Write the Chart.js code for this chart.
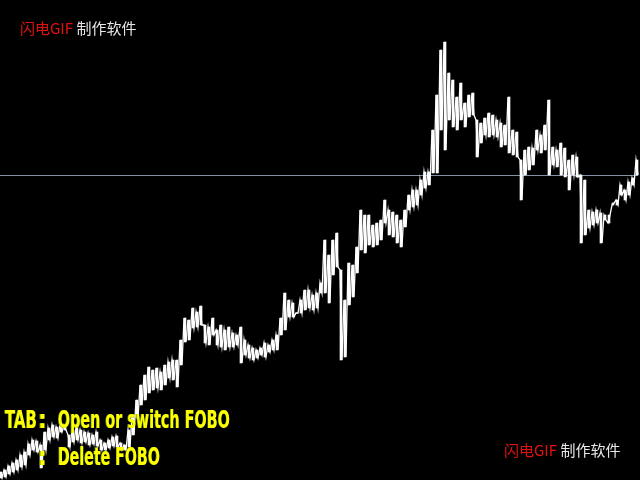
<!DOCTYPE html>
<html>
<head>
<meta charset="utf-8">
<script src="https://cdn.jsdelivr.net/npm/chart.js@4/dist/chart.umd.min.js"></script>
<style>
  html, body { margin: 0; padding: 0; background: #000; overflow: hidden; }
  #wrap { position: relative; width: 640px; height: 480px; background: #000; }
  canvas { position: absolute; left: 0; top: 0; }
  .wm { position: absolute; font-family: "Noto Sans CJK SC", sans-serif; font-size: 15px; line-height: 16px; white-space: nowrap; }
  .wm .r { color: #e31010; }
  .wm .w { color: #e8e8e8; }
  .fobo { position: absolute; font-family: "Liberation Sans Narrow", "DejaVu Sans Condensed", sans-serif; font-weight: bold; font-size: 25px; line-height: 26px; color: #ffff00; white-space: nowrap; text-shadow: -1px 0 #6a9a00; transform-origin: left top; }
</style>
</head>
<body>
<div id="wrap">
  <canvas id="c" width="640" height="480"></canvas>
  <div class="wm" style="left:20px; top:20px;"><span class="r">闪电GIF</span> <span class="w">制作软件</span></div>
  <div class="wm" style="left:504px; top:442px;"><span class="r">闪电GIF</span> <span class="w">制作软件</span></div>
  <div class="fobo" id="t0" style="left:5px; top:407px;">TAB</div>
  <div class="fobo" style="left:38px; top:407px;">:</div>
  <div class="fobo" id="t1" style="left:58px; top:407px;">Open or switch FOBO</div>
  <div class="fobo" style="left:38px; top:444px;">:</div>
  <div class="fobo" id="t2" style="left:58px; top:444px;">Delete FOBO</div>
</div>
<script>
// bar index (time) 0..159
const bars = Array.from({length: 160}, (_, i) => i);
// per-bar high and low prices
const highs = [
  8,10,14,17,20,25,28,36,40,39,35,48,52,55,53,56,55,45,50,52,
  50,48,47,45,48,40,37,40,43,44,37,35,50,65,80,95,105,113,110,112,
  108,115,118,120,120,140,162,160,172,168,174,155,153,162,150,155,150,153,147,145,
  153,140,135,132,130,132,137,135,140,145,162,187,180,177,167,180,190,190,185,187,
  197,240,225,240,247,210,180,217,215,233,270,265,265,255,257,260,280,270,268,265,
  260,270,285,290,290,300,308,308,350,385,430,438,407,400,383,397,377,385,387,360,
  357,362,367,365,360,357,355,383,350,348,320,330,333,332,350,345,355,380,333,330,
  337,332,320,325,323,305,300,270,268,270,267,265,257,275,280,295,290,298,302,320
];
const lows = [
  2,3,6,8,10,13,15,25,30,28,12,30,40,43,42,48,50,33,38,40,
  37,38,35,36,34,30,30,32,34,33,30,30,33,45,62,75,80,87,90,92,
  90,95,102,100,93,115,138,140,152,153,155,137,135,145,135,133,130,133,133,135,
  117,125,122,120,122,125,123,128,130,130,145,150,163,163,167,167,170,172,170,172,
  187,187,177,205,213,120,123,175,183,207,230,227,235,233,235,240,257,245,243,237,
  233,253,270,273,275,285,292,295,307,307,350,330,360,353,350,360,353,363,365,323,
  337,345,343,345,343,333,335,327,325,323,280,305,310,315,330,327,330,305,315,313,
  305,303,290,305,303,237,245,252,255,257,237,260,265,277,275,285,280,285,295,305
];
// horizontal price level line
const levelPrice = 305;

// zig-zag through each bar's high and low gives the dense tick texture
const points = [];
bars.forEach((b, i) => {
  points.push({x: b, y: highs[i]});
  points.push({x: b + 0.5, y: lows[i]});
});
// thin high-low sticks under it
const sticks = bars.map((b, i) => ({x: b + 0.25, y: [lows[i], highs[i]]}));

const levelLine = {
  id: 'levelLine',
  beforeDatasetsDraw(chart) {
    const {ctx, chartArea, scales} = chart;
    const y = Math.round(scales.y.getPixelForValue(levelPrice)) + 0.5;
    ctx.save();
    ctx.strokeStyle = '#8291a6';
    ctx.lineWidth = 1;
    ctx.beginPath();
    ctx.moveTo(chartArea.left, y);
    ctx.lineTo(chartArea.right - 2, y);
    ctx.stroke();
    ctx.restore();
  }
};

new Chart(document.getElementById('c'), {
  data: {
    datasets: [{
      type: 'line',
      data: points,
      borderColor: '#ffffff',
      borderWidth: 1.3,
      pointRadius: 0,
      tension: 0,
      fill: false
    }, {
      type: 'bar',
      data: sticks,
      backgroundColor: '#ffffff',
      borderWidth: 0,
      barThickness: 2
    }]
  },
  options: {
    responsive: false,
    animation: false,
    layout: { padding: 0 },
    plugins: { legend: { display: false }, tooltip: { enabled: false } },
    scales: {
      x: { type: 'linear', min: 0, max: 160, display: false, offset: false },
      y: { type: 'linear', min: 0, max: 480, display: false }
    }
  },
  plugins: [levelLine]
});

// fit the condensed yellow labels to their widths in the reference
function fit(id, w) {
  const el = document.getElementById(id);
  const s = w / el.getBoundingClientRect().width;
  el.style.transform = 'scaleX(' + s + ')';
}
fit('t0', 32);
fit('t1', 172);
fit('t2', 102);
</script>
</body>
</html>
